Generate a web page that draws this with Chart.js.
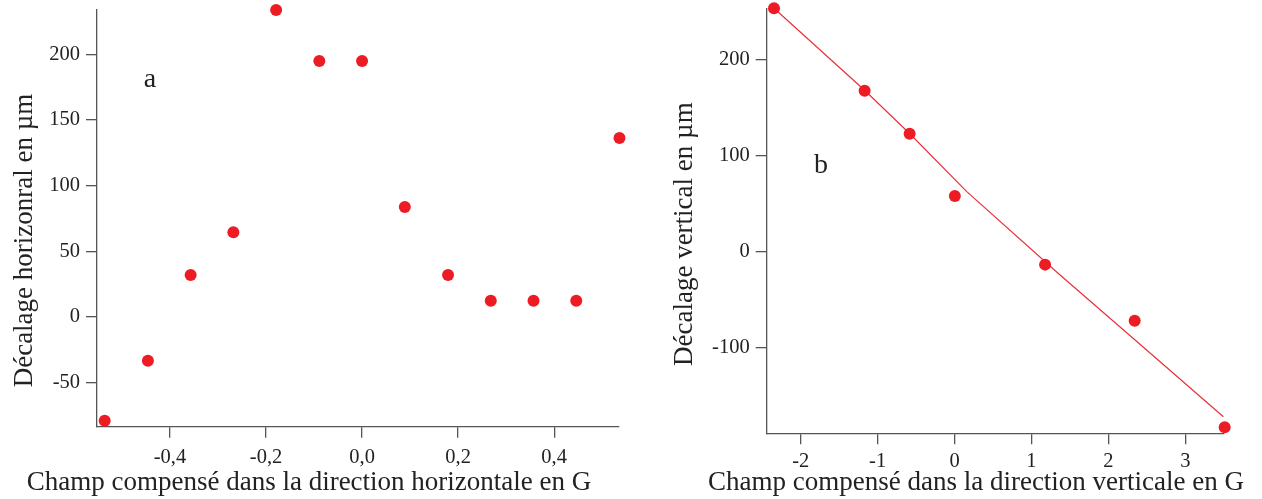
<!DOCTYPE html>
<html>
<head>
<meta charset="utf-8">
<script src="https://cdn.jsdelivr.net/npm/chart.js@4/dist/chart.umd.min.js"></script>
<style>
  html, body { margin:0; padding:0; background:#fff; }
  #wrap { position:relative; width:1262px; height:499px; overflow:hidden; }
  canvas { position:absolute; top:0; }
  #chart-a { left:0; }
  #chart-b { left:640px; }
</style>
</head>
<body>
<div id="wrap">
  <canvas id="chart-a" width="640" height="499"></canvas>
  <canvas id="chart-b" width="622" height="499"></canvas>
</div>
<script>
// ---- panel a : horizontal compensation ----
const H_FIELD = [-0.536, -0.446, -0.357, -0.268, -0.179, -0.089, 0, 0.089, 0.179, 0.268, 0.357, 0.446, 0.536];
const H_SHIFT = [-78.8, -33.2, 32, 64.5, 233.6, 194.8, 194.8, 83.7, 32, 12.5, 12.5, 12.5, 136.2];
const H_XTICKS = [-0.4, -0.2, 0, 0.2, 0.4];
const H_YTICKS = [-50, 0, 50, 100, 150, 200];

// ---- panel b : vertical compensation ----
const V_FIELD = [-2.347, -1.169, -0.584, 0.004, 1.177, 2.342, 3.512];
const V_SHIFT = [253.5, 167.7, 122.9, 58, -13.5, -71.9, -182.9];
const FIT_X = [-2.347, -1.173, -0.588, 0.159, 1.372, 2.347, 3.495];
const FIT_Y = [253.5, 168.4, 123.3, 62.5, -24.3, -92, -171.9];
const V_XTICKS = [-2, -1, 0, 1, 2, 3];
const V_YTICKS = [-100, 0, 100, 200];

const RED = '#ED1C24';
const AXIS = '#555';
const INK = '#222';
const SERIF = "'Liberation Serif', 'Times New Roman', serif";

// free text (axis titles, panel letters) drawn on the canvas
const freeText = {
  id:'freeText',
  afterDraw(chart, args, opts){
    const ctx = chart.ctx;
    (opts.items || []).forEach(it => {
      ctx.save();
      ctx.font = it.size + 'px ' + SERIF;
      ctx.fillStyle = INK;
      ctx.textAlign = 'center';
      ctx.textBaseline = 'alphabetic';
      ctx.translate(it.x, it.y);
      if(it.rotate) ctx.rotate(-Math.PI/2);
      ctx.fillText(it.text, 0, 0);
      ctx.restore();
    });
  }
};

const pts = (xs, ys) => xs.map((x,i) => ({ x, y: ys[i] }));

function axis(min, max, tickVals, fmt, size, isY, pad){
  return {
    type:'linear', min, max,
    afterBuildTicks: s => { s.ticks = tickVals.map(v => ({ value:v })); },
    afterFit: s => {
      if(isY){ s.width = size; s.paddingTop = 0; s.paddingBottom = 0; }
      else { s.height = size; s.paddingLeft = 0; s.paddingRight = 0; }
    },
    border:{ display:true, color:AXIS, width:1.3 },
    grid:{ display:true, drawOnChartArea:false, drawTicks:true, tickLength:11, color:AXIS, lineWidth:1.3 },
    ticks:{ color:INK, font:{ family:SERIF, size:20.5 }, padding:pad, maxRotation:0, autoSkip:false, callback: fmt }
  };
}

const commaFmt = v => v.toFixed(1).replace('.', ',');
const intFmt = v => String(v);

new Chart(document.getElementById('chart-a'), {
  type:'scatter',
  data:{ datasets:[{
    data: pts(H_FIELD, H_SHIFT),
    backgroundColor:RED, borderWidth:0, pointRadius:6, clip:false
  }]},
  options:{
    responsive:false, animation:false,
    layout:{ padding:{ top:10, right:21, left:0, bottom:0 } },
    plugins:{
      legend:{ display:false }, tooltip:{ enabled:false },
      freeText:{ items:[
        { text:'Champ compensé dans la direction horizontale en G', x:309, y:490, size:27 },
        { text:'Décalage horizonral en µm', x:32, y:240.5, size:27, rotate:true },
        { text:'a', x:150, y:87, size:28 }
      ]}
    },
    scales:{
      x: axis(-0.552, 0.535, H_XTICKS, commaFmt, 72.3, false, 8),
      y: axis(-83.4, 233.6, H_YTICKS, intFmt, 97, true, 6)
    }
  },
  plugins:[freeText]
});

new Chart(document.getElementById('chart-b'), {
  type:'scatter',
  data:{ datasets:[
    {
      data: pts(V_FIELD, V_SHIFT),
      backgroundColor:RED, borderWidth:0, pointRadius:6, clip:false, order:0
    },
    {
      data: pts(FIT_X, FIT_Y),
      showLine:true, borderColor:'#EA3138', borderWidth:1.2, pointRadius:0, fill:false, clip:false, order:1
    }
  ]},
  options:{
    responsive:false, animation:false,
    layout:{ padding:{ top:8.5, right:38.7, left:0, bottom:0 } },
    plugins:{
      legend:{ display:false }, tooltip:{ enabled:false },
      freeText:{ items:[
        { text:'Champ compensé dans la direction verticale en G', x:336, y:490, size:27 },
        { text:'Décalage vertical en µm', x:51.7, y:234.2, size:27, rotate:true },
        { text:'b', x:181, y:173, size:28 }
      ]}
    },
    scales:{
      x: axis(-2.442, 3.494, V_XTICKS, intFmt, 65.7, false, 5),
      y: axis(-189.2, 253.3, V_YTICKS, intFmt, 126.7, true, 6)
    }
  },
  plugins:[freeText]
});
</script>
</body>
</html>
